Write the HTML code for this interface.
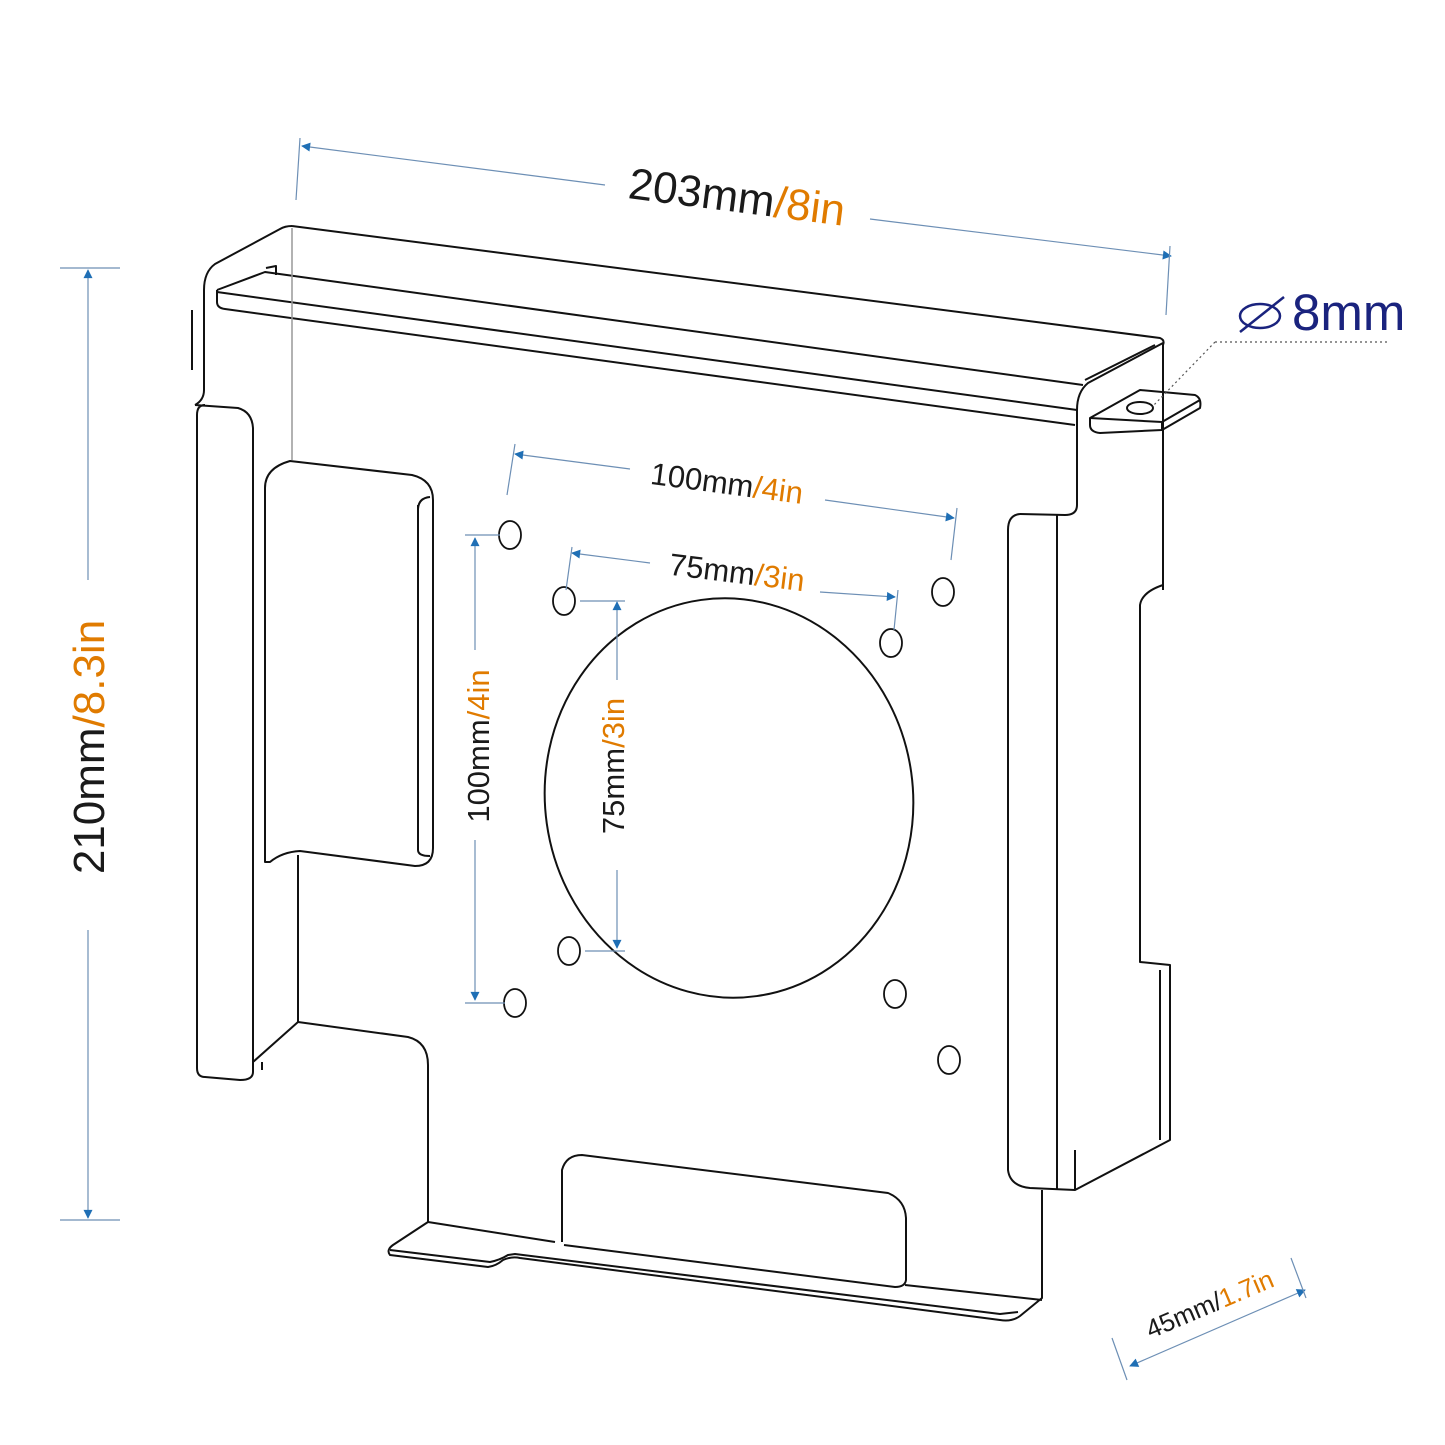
<!DOCTYPE html>
<html><head><style>html,body{margin:0;padding:0;background:#fff}svg{display:block}</style></head>
<body>
<svg width="1445" height="1445" viewBox="0 0 1445 1445" xmlns="http://www.w3.org/2000/svg" font-family="Liberation Sans, sans-serif">
<defs>
<marker id="a" viewBox="0 0 10 10" refX="9" refY="5" markerWidth="14" markerHeight="9" orient="auto-start-reverse" markerUnits="userSpaceOnUse"><path d="M0,0L10,5L0,10z" fill="#1f6fb5"/></marker>
</defs>
<g fill="none" stroke="#111" stroke-width="2" stroke-linejoin="round">
<path d="M292,226 L1160,338 Q1165,340 1163,345 L1163,590"/>
<path d="M292,226 Q285,226 280,229 L215,264 Q204,272 204,290 L204,390 Q204,400 195,405"/>
<path d="M192,310 L192,370"/>
<path d="M1163,343 L1088,383 Q1077,392 1077,410 L1077,505 Q1077,515 1065,515 L1020,514"/>
<path d="M1155,345 L1085,380"/>
<path d="M217,290 L217,302 Q217,308 225,309 L1075,425"/>
<path d="M217,290 L265,272 L1083,385"/>
<path d="M217,292 L1077,410"/>
<path d="M266,268 L276,266 L276,275"/>
<path d="M292,228 L292,460" stroke="#999" stroke-width="1.5"/>
<path d="M195,405 L238,408 Q252,412 253,428 L253,1072 Q253,1080 240,1080 L205,1077 Q197,1077 197,1068 L197,415 Q197,405 205,405"/>
<path d="M253,1062 L298,1022 L408,1037 Q428,1042 428,1065 L428,1222"/>
<path d="M262,1062 L262,1070"/>
<path d="M265,488 Q265,468 290,461 L412,475 Q433,480 433,500 L433,848 Q433,866 415,866 L300,851 Q282,852 270,862 L265,862 Z"/>
<path d="M418,510 Q418,498 430,497 M418,505 L418,850 Q418,856 430,856"/>
<path d="M298,855 L298,1022"/>
<path d="M428,1222 L393,1245 Q386,1250 390,1255 L488,1267 Q496,1266 503,1260 Q512,1256 520,1258 L1000,1320 Q1012,1322 1020,1316 L1042,1298 L1042,1190"/>
<path d="M390,1250 L490,1262 Q500,1260 508,1255 L515,1254 L1000,1314 L1018,1312"/>
<path d="M428,1222 L555,1242 M905,1285 L1042,1300"/>
<path d="M562,1242 L562,1170 Q566,1155 582,1155 L888,1193 Q905,1200 906,1218 L906,1280 Q905,1287 895,1287 L564,1245"/>
<path d="M1020,514 Q1008,515 1008,530 L1008,1170 Q1010,1186 1030,1188 L1075,1190 L1170,1140 L1170,965 L1140,962 L1140,605 Q1142,592 1163,585"/>
<path d="M1057,515 L1057,1190"/>
<path d="M1075,1190 L1075,1150 M1160,970 L1160,1140"/>
<path d="M1090,418 L1140,390 L1195,395 Q1202,398 1200,408 L1162,430 L1100,433 Q1090,432 1090,425 Z"/>
<path d="M1090,418 L1162,422 L1200,400 M1162,422 L1162,430"/>
<ellipse cx="1140" cy="408" rx="13" ry="6"/>
<ellipse cx="729" cy="798" rx="184" ry="200" transform="rotate(-8 729 798)"/>
<g stroke-width="1.8">
<ellipse cx="510" cy="535" rx="11" ry="14"/><ellipse cx="943" cy="592" rx="11" ry="14"/>
<ellipse cx="564" cy="601" rx="11" ry="14"/><ellipse cx="891" cy="643" rx="11" ry="14"/>
<ellipse cx="569" cy="951" rx="11" ry="14"/><ellipse cx="895" cy="994" rx="11" ry="14"/>
<ellipse cx="515" cy="1003" rx="11" ry="14"/><ellipse cx="949" cy="1060" rx="11" ry="14"/>
</g>
</g>
<g stroke="#6d8fb5" stroke-width="1.2" fill="none">
<path d="M302,146 L605,185 M870,219 L1171,256" marker-start="url(#a)" marker-end="url(#a)"/>
<path d="M300,138 L296,200 M1170,246 L1166,315"/>
<path d="M88,270 L88,580 M88,930 L88,1218" marker-start="url(#a)" marker-end="url(#a)"/>
<path d="M60,268 L120,268 M60,1220 L120,1220"/>
<path d="M515,454 L630,469 M825,500 L954,518" marker-start="url(#a)" marker-end="url(#a)"/>
<path d="M515,444 L507,495 M957,508 L951,560"/>
<path d="M572,553 L650,563 M820,592 L895,597" marker-start="url(#a)" marker-end="url(#a)"/>
<path d="M572,547 L566,590 M898,590 L894,630"/>
<path d="M475,538 L475,650 M475,840 L475,1000" marker-start="url(#a)" marker-end="url(#a)"/>
<path d="M465,535 L500,535 M465,1003 L505,1003"/>
<path d="M617,602 L617,680 M617,870 L617,948" marker-start="url(#a)" marker-end="url(#a)"/>
<path d="M580,601 L625,601 M585,951 L625,951"/>
<path d="M1130,1366 L1305,1290" marker-start="url(#a)" marker-end="url(#a)"/>
<path d="M1112,1338 L1127,1380 M1291,1258 L1306,1298"/>
<path d="M1215,342 L1390,342 M1215,342 L1152,407" stroke="#555" stroke-dasharray="2,3"/>
</g>
<g font-size="44" fill="#1a1a1a">
<text x="737" y="212" text-anchor="middle" transform="rotate(7.3 737 197)">203mm<tspan fill="#e07b00">/8in</tspan></text>
<text x="0" y="0" text-anchor="middle" transform="translate(104,747) rotate(-90)">210mm<tspan fill="#e07b00">/8.3in</tspan></text>
</g>
<g font-size="31" fill="#1a1a1a">
<text x="727" y="494" text-anchor="middle" transform="rotate(7.5 727 483)">100mm<tspan fill="#e07b00">/4in</tspan></text>
<text x="737" y="583" text-anchor="middle" transform="rotate(7 737 572)">75mm<tspan fill="#e07b00">/3in</tspan></text>
<text x="0" y="0" text-anchor="middle" transform="translate(489,746) rotate(-90)">100mm<tspan fill="#e07b00">/4in</tspan></text>
<text x="0" y="0" text-anchor="middle" transform="translate(624,766) rotate(-90)">75mm<tspan fill="#e07b00">/3in</tspan></text>
</g>
<text x="1210" y="1313" font-size="26" fill="#1a1a1a" text-anchor="middle" transform="rotate(-23 1210 1305)">45mm/<tspan fill="#e07b00">1.7in</tspan></text>
<g fill="none" stroke="#1a237e" stroke-width="2.5"><ellipse cx="1260" cy="316" rx="20" ry="12"/><path d="M1240,332 L1284,297"/></g>
<text x="1292" y="330" font-size="51" fill="#1a237e">8mm</text>
</svg>
</body></html>
